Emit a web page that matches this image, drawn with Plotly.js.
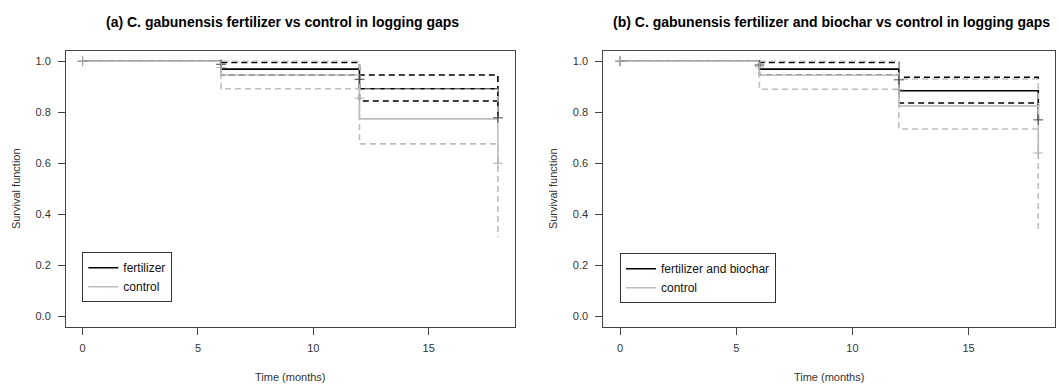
<!DOCTYPE html>
<html>
<head>
<meta charset="utf-8">
<script src="https://cdn.plot.ly/plotly-3.0.1.min.js"></script>
<style>html,body{margin:0;padding:0;background:#fff;}#chart{width:1059px;height:386px;}</style>
</head>
<body>
<div id="chart"></div>
<script>
// ---- data ----
const times = [0, 6, 12, 18];

// (a) fertilizer vs control
const fertEst   = [1, 0.969, 0.892, 0.778];
const fertUpper = [1, 0.995, 0.946, 0.88];
const fertLower = [1, 0.946, 0.844, 0.78];
const ctrlAEst   = [1, 0.946, 0.774, 0.60];
const ctrlAUpper = [1, 1.000, 0.890, 0.78];
const ctrlALower = [1, 0.892, 0.676, 0.31];
const fertMarks  = [1, 0.988, 0.929, 0.778];
const ctrlAMarks = [1, 0.975, 0.855, 0.60];

// (b) fertilizer and biochar vs control
const fbEst   = [1, 0.969, 0.884, 0.77];
const fbUpper = [1, 0.995, 0.937, 0.93];
const fbLower = [1, 0.945, 0.836, 0.77];
const ctrlBEst   = [1, 0.945, 0.825, 0.64];
const ctrlBUpper = [1, 1.000, 0.930, 0.83];
const ctrlBLower = [1, 0.890, 0.734, 0.33];
const fbMarks    = [1, 0.985, 0.927, 0.77];
const ctrlBMarks = [1, 0.978, 0.888, 0.64];

const xTicks = [0, 5, 10, 15];
const yTicks = [0, 0.2, 0.4, 0.6, 0.8, 1.0];
const titleA = "(a) C. gabunensis fertilizer vs control in logging gaps";
const titleB = "(b) C. gabunensis fertilizer and biochar vs control in logging gaps";
const nameFert = "fertilizer", nameFB = "fertilizer and biochar", nameCtrl = "control";

// ---- styles ----
const BLACK = "#000000", GRAY = "#bebebe";
const FONT = "Liberation Sans, Arial, sans-serif";

function step(y, color, dash, xa, ya, name, legend, show) {
  return {x: times, y: y, type: "scatter", mode: "lines",
    line: {shape: "hv", color: color, width: 1.6, dash: dash},
    xaxis: xa, yaxis: ya, name: name, legend: legend, showlegend: !!show,
    hoverinfo: "skip"};
}
function marks(y, color, xa, ya) {
  return {x: times, y: y, type: "scatter", mode: "markers",
    marker: {symbol: "cross-thin-open", size: 7, color: color, line: {color: color, width: 1}},
    xaxis: xa, yaxis: ya, showlegend: false, hoverinfo: "skip"};
}
const DASH = "6px,4px";

const traces = [
  step(fertUpper, BLACK, DASH, "x", "y"),
  step(fertLower, BLACK, DASH, "x", "y"),
  step(fertEst, BLACK, "solid", "x", "y", nameFert, "legend", true),
  step(ctrlAUpper, GRAY, DASH, "x", "y"),
  step(ctrlALower, GRAY, DASH, "x", "y"),
  step(ctrlAEst, GRAY, "solid", "x", "y", nameCtrl, "legend", true),
  marks(fertMarks, "#444444", "x", "y"),
  marks(ctrlAMarks, "#b0b0b0", "x", "y"),

  step(fbUpper, BLACK, DASH, "x2", "y2"),
  step(fbLower, BLACK, DASH, "x2", "y2"),
  step(fbEst, BLACK, "solid", "x2", "y2", nameFB, "legend2", true),
  step(ctrlBUpper, GRAY, DASH, "x2", "y2"),
  step(ctrlBLower, GRAY, DASH, "x2", "y2"),
  step(ctrlBEst, GRAY, "solid", "x2", "y2", nameCtrl, "legend2", true),
  marks(fbMarks, "#444444", "x2", "y2"),
  marks(ctrlBMarks, "#b0b0b0", "x2", "y2")
];

function xaxis(domain, anchor) {
  return {domain: domain, anchor: anchor, range: [-0.72, 18.72],
    tickmode: "array", tickvals: xTicks, ticktext: xTicks.map(String),
    ticks: "outside", ticklen: 7, tickcolor: "#444", tickwidth: 1,
    showline: true, mirror: true, linecolor: "#444", linewidth: 1,
    showgrid: false, zeroline: false, ticklabelstandoff: 4,
    tickfont: {family: FONT, size: 11, color: "#333"},
    title: {text: "Time (months)", font: {family: FONT, size: 11, color: "#333"}, standoff: 20}};
}
function yaxis(domain, anchor) {
  return {domain: domain, anchor: anchor, range: [-0.04, 1.04],
    tickmode: "array", tickvals: yTicks, ticktext: yTicks.map(v => v.toFixed(1)),
    ticks: "outside", ticklen: 7, tickcolor: "#444", tickwidth: 1,
    showline: true, mirror: true, linecolor: "#444", linewidth: 1,
    showgrid: false, zeroline: false, ticklabelstandoff: 5,
    tickfont: {family: FONT, size: 11, color: "#333"},
    title: {text: "Survival function", font: {family: FONT, size: 11, color: "#333"}, standoff: 12}};
}

const W = 1059, H = 386;
const yDom = [1 - 326.5 / H, 1 - 51 / H];
const layout = {
  width: W, height: H,
  margin: {l: 0, r: 0, t: 0, b: 0},
  paper_bgcolor: "#fff", plot_bgcolor: "#fff",
  font: {family: FONT, color: "#000"},
  xaxis: xaxis([66 / W, 514.5 / W], "y"),
  yaxis: yaxis(yDom, "x"),
  xaxis2: xaxis([603.3 / W, 1055 / W], "y2"),
  yaxis2: yaxis(yDom, "x2"),
  legend: {x: 82.3 / W, y: 1 - 252.3 / H, xanchor: "left", yanchor: "top",
    bordercolor: "#333", borderwidth: 1, bgcolor: "#fff",
    font: {family: FONT, size: 12, color: "#111"}, itemwidth: 30, tracegroupgap: 0},
  legend2: {x: 620 / W, y: 1 - 253.3 / H, xanchor: "left", yanchor: "top",
    bordercolor: "#333", borderwidth: 1, bgcolor: "#fff",
    font: {family: FONT, size: 12, color: "#111"}, itemwidth: 30, tracegroupgap: 0},
  annotations: [
    {text: "<b>" + titleA + "</b>", xref: "paper", yref: "paper", x: 282 / W, y: 1 - 22 / H,
     xanchor: "center", yanchor: "middle", showarrow: false, font: {family: FONT, size: 14, color: "#000"}},
    {text: "<b>" + titleB + "</b>", xref: "paper", yref: "paper", x: 831 / W, y: 1 - 22 / H,
     xanchor: "center", yanchor: "middle", showarrow: false, font: {family: FONT, size: 14, color: "#000"}}
  ]
};

Plotly.newPlot("chart", traces, layout, {displayModeBar: false, staticPlot: true});
</script>
</body>
</html>
